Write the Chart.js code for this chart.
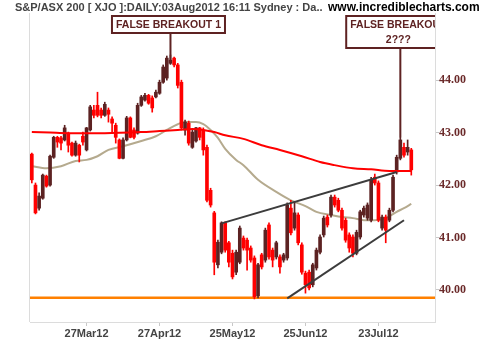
<!DOCTYPE html>
<html>
<head>
<meta charset="utf-8">
<script src="https://cdn.jsdelivr.net/npm/chart.js"></script>
<style>
  html, body { margin: 0; padding: 0; background: #fff; }
  #wrap { width: 484px; height: 345px; }
</style>
</head>
<body>
<div id="wrap"><canvas id="chart" width="484" height="345"></canvas></div>
<script>
// trading calendar
const startDate = '2012-03-06'
const holidays = ['2012-04-06', '2012-04-09', '2012-04-25', '2012-06-11']
const emptySlots = 6
const tickLabels = ['27Mar12', '27Apr12', '25May12', '25Jun12', '23Jul12']
const yTicks = [40, 41, 42, 43, 44]

// daily candles
const opens = [42.59,42.00,41.56,41.75,42.17,42.00,42.53,42.91,42.90,42.86,
  42.99,42.80,42.57,42.76,42.93,42.67,43.05,43.43,43.52,43.43,
  43.33,43.43,43.26,43.14,42.86,42.51,42.86,43.28,43.05,42.99,
  43.52,43.62,43.71,43.66,43.68,43.75,43.96,44.04,44.32,44.42,
  44.29,43.96,43.05,43.18,42.72,42.84,43.09,43.05,42.72,41.90,
  41.47,40.48,40.72,41.28,40.90,40.70,40.34,40.53,40.99,40.95,
  40.80,40.61,39.89,40.67,40.57,41.24,40.76,40.63,40.63,40.57,
  40.61,41.56,41.18,41.43,40.86,40.32,40.34,40.10,40.42,40.72,
  41.05,41.39,41.43,41.77,41.71,41.52,41.33,41.05,41.01,40.70,
  41.01,41.43,41.37,41.33,42.15,42.04,41.18,41.39,41.33,41.52,
  42.25,42.51,42.72,42.63,42.67]
const highs = [42.61,42.04,41.85,42.21,42.19,42.57,42.93,42.93,42.93,43.14,
  43.01,42.82,42.84,42.78,43.01,43.10,43.52,43.52,43.77,43.47,
  43.58,43.47,43.30,43.18,42.88,42.90,43.31,43.30,43.09,43.56,
  43.71,43.75,43.73,43.70,43.81,44.00,44.29,44.46,44.48,44.44,
  44.32,44.00,43.24,43.22,43.05,43.10,43.10,43.09,42.76,41.94,
  41.50,40.95,41.30,41.30,40.93,40.76,40.76,41.22,41.03,40.99,
  40.84,40.65,40.51,40.70,41.18,41.28,40.80,40.93,40.67,40.70,
  41.66,41.71,41.68,41.47,40.90,40.36,40.38,40.51,40.80,41.05,
  41.41,41.43,41.81,41.81,41.75,41.56,41.37,41.09,41.05,41.14,
  41.52,41.60,41.66,42.15,42.21,42.08,41.43,41.43,41.56,42.19,
  42.57,42.91,42.80,42.86,42.70]
const lows = [42.04,41.45,41.52,41.73,41.96,41.98,42.51,42.72,42.67,42.84,
  42.63,42.55,42.55,42.44,42.76,42.65,43.03,43.28,43.30,43.28,
  43.31,43.20,43.01,42.80,42.50,42.50,42.84,42.90,42.88,42.97,
  43.50,43.60,43.54,43.39,43.66,43.73,43.94,44.00,44.30,44.25,
  43.85,43.05,42.95,42.76,42.70,42.82,42.86,42.57,41.68,41.58,
  40.29,40.42,40.69,40.72,40.44,40.21,40.29,40.50,40.76,40.38,
  40.53,39.83,39.85,40.40,40.53,40.59,40.44,40.59,40.32,40.53,
  40.57,41.05,41.14,40.86,40.30,39.94,40.00,40.06,40.38,40.69,
  41.01,41.20,41.39,41.58,41.49,41.14,40.91,40.72,40.63,40.67,
  40.97,41.39,41.33,41.30,42.00,41.30,41.14,40.90,41.30,41.49,
  42.21,42.48,42.53,42.57,42.19]
const closes = [42.10,41.47,41.79,42.19,41.98,42.55,42.91,42.82,42.80,43.09,
  42.76,42.57,42.80,42.57,42.82,43.09,43.49,43.33,43.33,43.33,
  43.54,43.35,43.18,42.91,42.51,42.86,43.28,42.91,42.91,43.52,
  43.68,43.71,43.56,43.47,43.77,43.96,44.25,44.42,44.38,44.29,
  43.90,43.09,43.20,42.80,43.01,43.09,42.91,42.67,41.71,41.62,
  40.53,40.91,41.28,40.76,40.53,40.25,40.72,41.18,40.80,40.76,
  40.57,39.87,40.48,40.44,41.14,40.63,40.57,40.90,40.44,40.67,
  41.62,41.09,41.47,40.90,40.34,40.10,40.04,40.48,40.76,41.01,
  41.37,41.24,41.77,41.62,41.52,41.18,40.95,40.80,40.70,41.10,
  41.49,41.56,41.62,42.10,42.04,41.33,41.39,41.14,41.52,42.15,
  42.53,42.86,42.57,42.72,42.29]

// moving averages (read at a few days, line drawn through them)
const redMaIdx = [0, 5, 10, 20, 30, 35, 40, 44, 47, 50, 53, 58, 63, 68, 74, 79, 83, 88, 93, 98, 104]
const redMaVal = [43.01, 43.00, 42.99, 42.99, 43.01, 43.03, 43.05, 43.07, 43.05, 43.01, 42.95,
  42.88, 42.76, 42.67, 42.55, 42.44, 42.38, 42.32, 42.30, 42.27, 42.27]
const tanMaIdx = [0, 4, 8, 12, 15, 18, 21, 25, 30, 34, 37, 40, 42, 45, 47, 49, 51, 53, 56, 58,
  62, 67, 71, 75, 78, 82, 85, 88, 91, 94, 97, 100, 102, 104]
const tanMaVal = [42.36, 42.32, 42.36, 42.46, 42.48, 42.55, 42.67, 42.74, 42.84, 42.93, 43.05,
  43.16, 43.20, 43.20, 43.16, 43.05, 42.90, 42.69, 42.48, 42.38, 42.10, 41.87, 41.71, 41.60,
  41.49, 41.43, 41.39, 41.37, 41.33, 41.33, 41.37, 41.49, 41.56, 41.64]

// drawn-in trend lines and support
const upperTrendIdx = [52, 100]
const upperTrendVal = [41.27, 42.25]
const lowerTrendIdx = [70, 102]
const lowerTrendVal = [39.84, 41.33]
const supportLevel = 39.85

const notes = [
  { text: ['FALSE BREAKOUT 1'], index: 38, price: 44.34 },
  { text: ['FALSE BREAKOUT', '2???'], index: 101, price: 42.91 }
]
const titleText = 'S&P/ASX 200 [ XJO ]:DAILY:03Aug2012 16:11 Sydney : Da..'
const siteText = 'www.incrediblecharts.com'

const MONTHS = ['Jan','Feb','Mar','Apr','May','Jun','Jul','Aug','Sep','Oct','Nov','Dec']
const dates = []
const day = new Date(startDate + 'T00:00:00Z')
while (dates.length < opens.length) {
  const iso = day.toISOString().slice(0, 10)
  const wd = day.getUTCDay()
  if (wd !== 0 && wd !== 6 && !holidays.includes(iso)) {
    dates.push(String(day.getUTCDate()).padStart(2, '0') + MONTHS[day.getUTCMonth()] +
      String(day.getUTCFullYear()).slice(2))
  }
  day.setUTCDate(day.getUTCDate() + 1)
}
const labels = dates.concat(Array(emptySlots).fill(''))

function sparse(idx, vals) {
  const arr = labels.map(() => null)
  idx.forEach((k, j) => { arr[k] = vals[j] })
  return arr
}

const RED = '#ff0000'
const DARK = '#5c2222'
const MAROON = '#5e2222'
const candleColors = closes.map((c, i) => c >= opens[i] ? DARK : RED)

const overlay = {
  id: 'overlay',
  beforeDatasetsDraw(chart) {
    const { ctx, chartArea: a, scales: { y } } = chart
    ctx.save()
    ctx.strokeStyle = '#dcdcdc'
    ctx.lineWidth = 1
    ctx.beginPath()
    ctx.moveTo(a.left - 0.5, a.top)
    ctx.lineTo(a.left - 0.5, a.bottom)
    ctx.stroke()

    const ys = y.getPixelForValue(supportLevel)
    ctx.strokeStyle = '#ff8000'
    ctx.lineWidth = 2.5
    ctx.beginPath()
    ctx.moveTo(a.left, ys)
    ctx.lineTo(a.right, ys)
    ctx.stroke()
    ctx.restore()
  },
  afterDraw(chart) {
    const { ctx, chartArea: a, scales: { x, y } } = chart
    ctx.save()
    ctx.textBaseline = 'middle'
    ctx.font = 'bold 11px "Liberation Sans", Arial, sans-serif'
    ctx.fillStyle = '#444'
    ctx.fillText(titleText, 15, 8)
    ctx.font = 'bold 12px "Liberation Sans", Arial, sans-serif'
    ctx.fillStyle = '#000'
    ctx.fillText(siteText, 328, 8)

    ctx.beginPath()
    ctx.rect(0, 0, a.right, chart.height)
    ctx.clip()
    ctx.font = 'bold 10.5px "Liberation Sans", Arial, sans-serif'
    ctx.textAlign = 'center'
    notes.forEach(n => {
      const cx = x.getPixelForValue(n.index)
      const w = Math.max(...n.text.map(t => ctx.measureText(t).width)) + 8
      const top = 16
      const h = 17 + (n.text.length - 1) * 15
      ctx.fillStyle = '#fff'
      ctx.fillRect(cx - w / 2 - 2, top, w, h)
      ctx.strokeStyle = MAROON
      ctx.lineWidth = 2
      ctx.strokeRect(cx - w / 2 - 2, top, w, h)
      ctx.fillStyle = MAROON
      n.text.forEach((t, k) => ctx.fillText(t, cx - 2, top + 9 + k * 15))
      ctx.beginPath()
      ctx.moveTo(cx, top + h + 1)
      ctx.lineTo(cx, y.getPixelForValue(n.price))
      ctx.stroke()
    })
    ctx.restore()
  }
}

new Chart(document.getElementById('chart'), {
  type: 'bar',
  data: {
    labels,
    datasets: [
      {
        type: 'line', label: 'upper trend', data: sparse(upperTrendIdx, upperTrendVal),
        borderColor: '#3c3c3c', borderWidth: 2, pointRadius: 0, spanGaps: true, order: 0
      },
      {
        type: 'line', label: 'lower trend', data: sparse(lowerTrendIdx, lowerTrendVal),
        borderColor: '#3c3c3c', borderWidth: 2, pointRadius: 0, spanGaps: true, order: 0
      },
      {
        type: 'line', label: 'MA red', data: sparse(redMaIdx, redMaVal),
        borderColor: RED, borderWidth: 2, pointRadius: 0, spanGaps: true,
        cubicInterpolationMode: 'monotone', order: 1
      },
      {
        label: 'body', data: opens.map((o, i) => [o, closes[i]]),
        backgroundColor: candleColors, barThickness: 3, minBarLength: 1, grouped: false, order: 2
      },
      {
        label: 'wick', data: lows.map((l, i) => [l, highs[i]]),
        backgroundColor: candleColors, barThickness: 1, grouped: false, order: 3
      },
      {
        type: 'line', label: 'MA tan', data: sparse(tanMaIdx, tanMaVal),
        borderColor: '#b5aa8e', borderWidth: 2, pointRadius: 0, spanGaps: true,
        cubicInterpolationMode: 'monotone', order: 4
      }
    ]
  },
  options: {
    responsive: false,
    animation: false,
    layout: { padding: { left: 30, top: 13, right: 0, bottom: 0 } },
    plugins: {
      legend: { display: false },
      tooltip: { enabled: false }
    },
    scales: {
      x: {
        offset: true,
        grid: {
          offset: false,
          drawOnChartArea: false,
          tickLength: 4,
          color: c => tickLabels.includes(labels[c.index]) ? '#c8c8c8' : 'rgba(0,0,0,0)'
        },
        border: { color: '#dcdcdc' },
        ticks: {
          autoSkip: false, maxRotation: 0, minRotation: 0, padding: 1,
          color: '#444',
          font: { family: '"Liberation Sans", Arial, sans-serif', size: 11, weight: 'bold' },
          callback: (v, i) => tickLabels.includes(labels[i]) ? labels[i] : ''
        },
        afterFit: s => { s.height = 23 }
      },
      y: {
        position: 'right',
        min: 39.39,
        max: 45.28,
        afterBuildTicks: s => { s.ticks = yTicks.map(v => ({ value: v })) },
        grid: { drawOnChartArea: false, tickLength: 4, color: '#c8c8c8' },
        border: { color: '#dcdcdc' },
        ticks: {
          padding: 0,
          color: '#6b2a2a',
          font: { family: '"Liberation Serif", "Times New Roman", serif', size: 12, weight: 'bold' },
          callback: v => v.toFixed(2)
        },
        afterFit: s => { s.width = 49 }
      }
    }
  },
  plugins: [overlay]
})
</script>
</body>
</html>
